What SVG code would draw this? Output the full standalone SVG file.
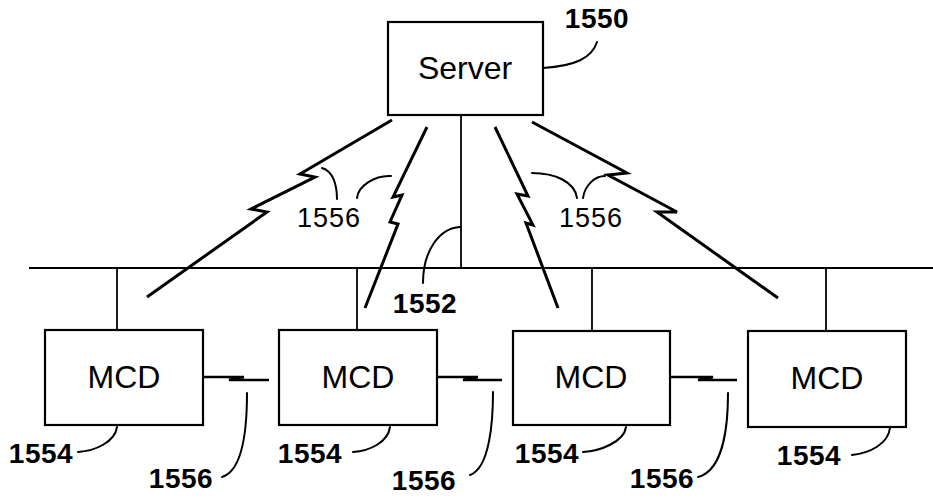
<svg xmlns="http://www.w3.org/2000/svg" width="933" height="498" viewBox="0 0 933 498">
<style>
.box{fill:#fff;stroke:#000;stroke-width:2.2}
.ln{fill:none;stroke:#000;stroke-width:1.8}
.rf{fill:none;stroke:#000;stroke-width:3;stroke-linejoin:miter}
.ld{fill:none;stroke:#000;stroke-width:2;stroke-linecap:round}
.nm{font-family:"Liberation Sans",Arial,sans-serif;font-size:32px;text-anchor:middle;fill:#000}
.lb{font-family:"Liberation Sans",Arial,sans-serif;font-size:28px;font-weight:bold;text-anchor:middle;fill:#000;letter-spacing:0.5px}
.lr{font-family:"Liberation Sans",Arial,sans-serif;font-size:27px;text-anchor:middle;fill:#000;letter-spacing:1px}
</style>
<rect width="933" height="498" fill="#fff"/>
<g id="connectors">
<path class="ln" d="M29,268 H933"/>
<path class="ln" d="M461,115 V268"/>
<path class="ln" d="M117,268 V330"/>
<path class="ln" d="M357,268 V330"/>
<path class="ln" d="M592,268 V331"/>
<path class="ln" d="M826,268 V331"/>
<path class="rf" d="M392,120 L300,174 L315,177 L251,209 L267,212 L147,297"/>
<path class="rf" d="M427,127 L393,197 L402,195 L390,222 L398,224 L365,308"/>
<path class="rf" d="M495,127 L528,196 L517,194 L533,225 L526,223 L558,308"/>
<path class="rf" d="M532,122 L627,173 L608,175 L677,212 L657,212 L778,298"/>
<path class="rf" style="stroke-width:2.5" d="M203,377 H244 L229,380 H269"/>
<path class="rf" style="stroke-width:2.5" d="M437,377 H478 L463,380 H502"/>
<path class="rf" style="stroke-width:2.5" d="M670,377 H713 L698,380 H737"/>
</g>
<g id="server">
<rect class="box" x="388" y="22" width="155" height="93"/>
<text class="nm" x="465" y="79">Server</text>
</g>
<g id="mcd1">
<rect class="box" x="45" y="330" width="158" height="95"/>
<text class="nm" x="124" y="388">MCD</text>
</g>
<g id="mcd2">
<rect class="box" x="279" y="330" width="158" height="95"/>
<text class="nm" x="358" y="388">MCD</text>
</g>
<g id="mcd3">
<rect class="box" x="513" y="331" width="157" height="94"/>
<text class="nm" x="591" y="388">MCD</text>
</g>
<g id="mcd4">
<rect class="box" x="748" y="331" width="158" height="96"/>
<text class="nm" x="827" y="389">MCD</text>
</g>
<g id="labels">
<path class="ld" d="M543,68 C575,66 592,58 597,42"/>
<text class="lb" x="597" y="28">1550</text>
<path class="ld" d="M423,283 C423,250 440,228 460,227"/>
<text class="lb" x="425" y="313">1552</text>
<path class="ld" d="M322,168 C333,171 337,185 337,199"/>
<path class="ld" d="M357,198 C358,186 375,175 391,176"/>
<text class="lr" x="329" y="227">1556</text>
<path class="ld" d="M532,173 C555,173 575,182 577,198"/>
<path class="ld" d="M583,198 C585,185 595,176 605,176"/>
<text class="lr" x="591" y="227">1556</text>
<path class="ld" d="M117,427 C115,442 95,451 78,452"/>
<text class="lb" x="41" y="463">1554</text>
<path class="ld" d="M390,427 C388,442 370,451 353,452"/>
<text class="lb" x="310" y="463">1554</text>
<path class="ld" d="M626,427 C624,442 600,451 583,452"/>
<text class="lb" x="547" y="463">1554</text>
<path class="ld" d="M890,428 C888,444 870,453 852,455"/>
<text class="lb" x="809" y="465">1554</text>
<path class="ld" d="M247,393 C247,420 245,470 222,477"/>
<text class="lb" x="181" y="488">1556</text>
<path class="ld" d="M493,392 C493,420 490,468 470,475"/>
<text class="lb" x="424" y="490">1556</text>
<path class="ld" d="M728,393 C728,420 725,470 698,477"/>
<text class="lb" x="662" y="488">1556</text>
</g>
</svg>
